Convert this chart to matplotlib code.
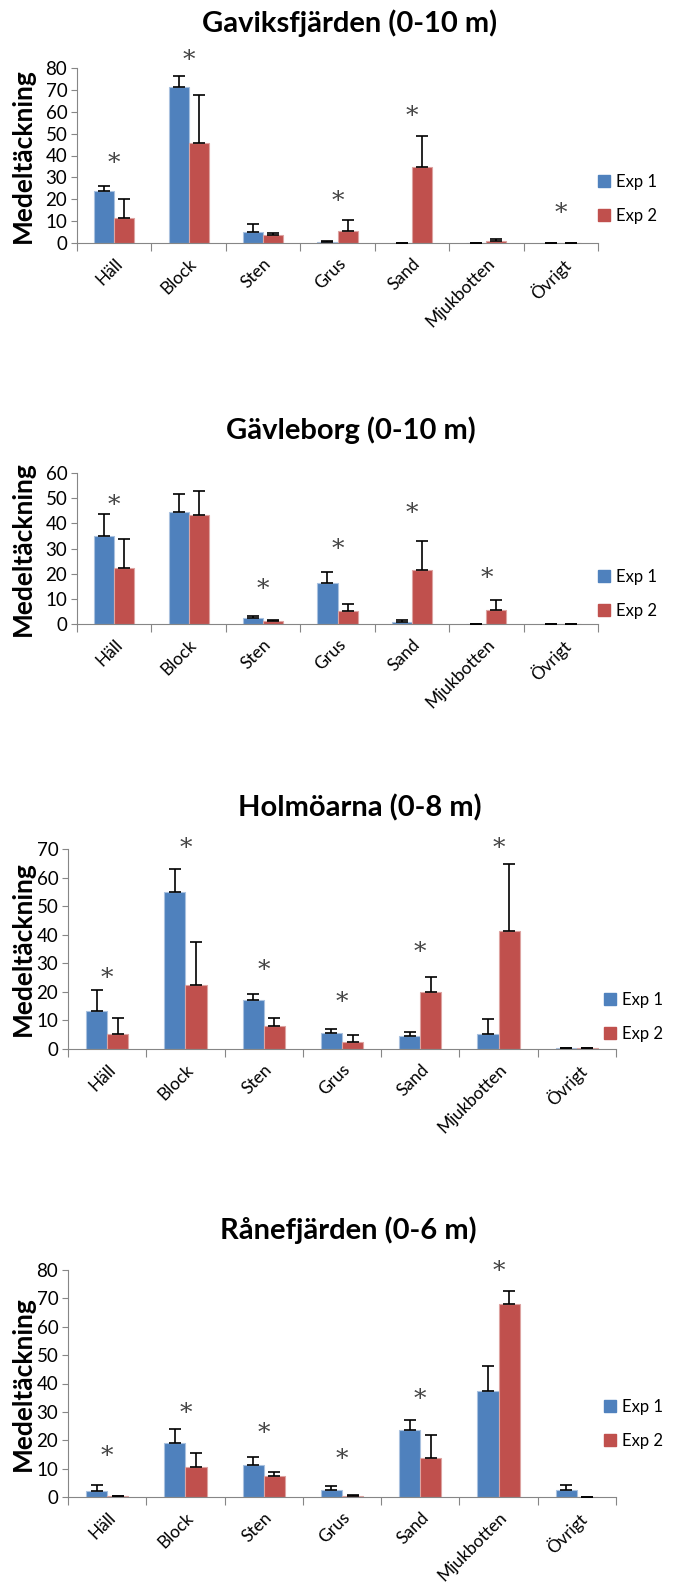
import matplotlib
matplotlib.use('Agg')
import matplotlib.pyplot as plt
import numpy as np
from matplotlib.lines import Line2D

plt.rcParams['font.family'] = ['Lato', 'DejaVu Sans']

W, H = 686, 1584

categories = ['Häll', 'Block', 'Sten', 'Grus', 'Sand', 'Mjukbotten', 'Övrigt']
series_names = ['Exp 1', 'Exp 2']

# Gaviksfjärden (0-10 m)
gav_exp1 = [23.7, 71.3, 4.9, 0.5, 0.1, 0.1, 0.1]
gav_err1 = [2.4, 5.0, 3.8, 0.3, 0.0, 0.0, 0.0]
gav_exp2 = [11.3, 45.7, 3.5, 5.7, 34.7, 1.1, 0.1]
gav_err2 = [8.9, 22.0, 1.1, 4.7, 14.1, 0.9, 0.0]
gav_stars = {'Häll': 36.4, 'Block': 83.3, 'Grus': 18.8, 'Sand': 57.8, 'Övrigt': 13.5}

# Gävleborg (0-10 m)
gvl_exp1 = [35.1, 44.6, 2.4, 16.4, 0.8, 0.1, 0.1]
gvl_err1 = [8.6, 7.1, 0.9, 4.3, 0.8, 0.0, 0.0]
gvl_exp2 = [22.1, 43.4, 1.2, 5.3, 21.5, 5.7, 0.1]
gvl_err2 = [11.7, 9.4, 0.4, 2.6, 11.6, 3.8, 0.0]
gvl_stars = {'Häll': 47.0, 'Sten': 13.6, 'Grus': 29.5, 'Sand': 44.1, 'Mjukbotten': 18.0}

# Holmöarna (0-8 m)
hol_exp1 = [13.4, 54.8, 17.1, 5.6, 4.7, 5.1, 0.2]
hol_err1 = [7.2, 8.1, 2.2, 1.3, 1.3, 5.4, 0.0]
hol_exp2 = [5.1, 22.5, 7.9, 2.5, 19.9, 41.4, 0.2]
hol_err2 = [5.9, 15.0, 3.1, 2.4, 5.2, 23.3, 0.0]
hol_stars = {'Häll': 24.6, 'Block': 70.0, 'Sten': 27.6, 'Grus': 16.2, 'Sand': 33.6, 'Mjukbotten': 70.0}

# Rånefjärden (0-6 m)
ran_exp1 = [2.1, 19.1, 11.4, 2.6, 23.6, 37.5, 2.6]
ran_err1 = [2.2, 4.7, 2.7, 1.4, 3.7, 8.6, 1.7]
ran_exp2 = [0.2, 10.4, 7.4, 0.35, 13.9, 67.9, 0.1]
ran_err2 = [0.0, 5.2, 1.4, 0.25, 8.0, 4.7, 0.0]
ran_stars = {'Häll': 14.2, 'Block': 29.4, 'Sten': 22.4, 'Grus': 13.1, 'Sand': 34.5, 'Mjukbotten': 79.6}

BLUE = '#4F81BD'
RED = '#C0504D'
AXC = '#868686'

fig = plt.figure(figsize=(W / 100, H / 100), dpi=100)


def px_axes(left, top, right, bottom):
    return fig.add_axes([left / W, 1 - bottom / H, (right - left) / W, (bottom - top) / H])


def panel(box, title, title_xy, ymax, exp1, err1, exp2, err2, stars, leg_xy):
    ax = px_axes(*box)
    x = np.arange(len(categories))
    bw = 0.27
    ax.bar(x - bw / 2, exp1, bw, color=BLUE, edgecolor='#A9C1DF', linewidth=0.8, zorder=2)
    ax.bar(x + bw / 2, exp2, bw, color=RED, edgecolor='#DDA3A1', linewidth=0.8, zorder=2)
    ax.errorbar(x - bw / 2, exp1, yerr=[np.zeros(len(x)), err1], fmt='none',
                ecolor='black', elinewidth=1.2, capsize=4, capthick=1.2, zorder=3)
    ax.errorbar(x + bw / 2, exp2, yerr=[np.zeros(len(x)), err2], fmt='none',
                ecolor='black', elinewidth=1.2, capsize=4, capthick=1.2, zorder=3)
    for cat, yv in stars.items():
        ax.text(categories.index(cat), yv, '*', ha='center', va='center',
                fontsize=18, color='#444444', family='DejaVu Serif', zorder=4)

    ax.set_xlim(-0.5, len(categories) - 0.5)
    ax.set_ylim(0, ymax)
    ax.set_yticks(np.arange(0, ymax + 1, 10))
    ax.tick_params(axis='y', length=4, color=AXC, labelsize=13.5, pad=3)
    ax.set_xticks(np.arange(-0.5, len(categories), 1))
    ax.set_xticklabels([])
    ax.tick_params(axis='x', which='major', length=6, color=AXC)
    ax.set_xticks(x, minor=True)
    ax.set_xticklabels(categories, minor=True, rotation=45, ha='right',
                       rotation_mode='anchor', fontsize=12.5)
    ax.tick_params(axis='x', which='minor', length=0, pad=9)
    for s in ['top', 'right']:
        ax.spines[s].set_visible(False)
    for s in ['left', 'bottom']:
        ax.spines[s].set_color(AXC)

    left, top, right, bottom = box
    fig.text(title_xy[0] / W, 1 - title_xy[1] / H, title, ha='center', va='center',
             fontsize=21, fontweight='bold')
    fig.text(23 / W, 1 - (top + bottom) / 2 / H, 'Medeltäckning', rotation=90,
             ha='center', va='center', fontsize=19, fontweight='bold')

    handles = [Line2D([], [], marker='s', linestyle='none', markersize=9,
                      markerfacecolor=c, markeredgecolor=c) for c in (BLUE, RED)]
    fig.legend(handles, series_names, loc='center left',
               bbox_to_anchor=(leg_xy[0] / W, 1 - leg_xy[1] / H), frameon=False,
               fontsize=12, handletextpad=0.1, handlelength=1.2,
               labelspacing=1.1, borderaxespad=0, borderpad=0)
    return ax


panel((77, 68, 598, 243), 'Gaviksfjärden (0-10 m)', (350, 23), 80,
      gav_exp1, gav_err1, gav_exp2, gav_err2, gav_stars, (594, 199))
panel((77, 473, 598, 624), 'Gävleborg (0-10 m)', (351, 430), 60,
      gvl_exp1, gvl_err1, gvl_exp2, gvl_err2, gvl_stars, (594, 594))
panel((68, 849, 616, 1049), 'Holmöarna (0-8 m)', (360, 808), 70,
      hol_exp1, hol_err1, hol_exp2, hol_err2, hol_stars, (600, 1017))
panel((68, 1270, 616, 1497), 'Rånefjärden (0-6 m)', (348, 1230), 80,
      ran_exp1, ran_err1, ran_exp2, ran_err2, ran_stars, (600, 1424))

fig.savefig('out.png', dpi=100)
